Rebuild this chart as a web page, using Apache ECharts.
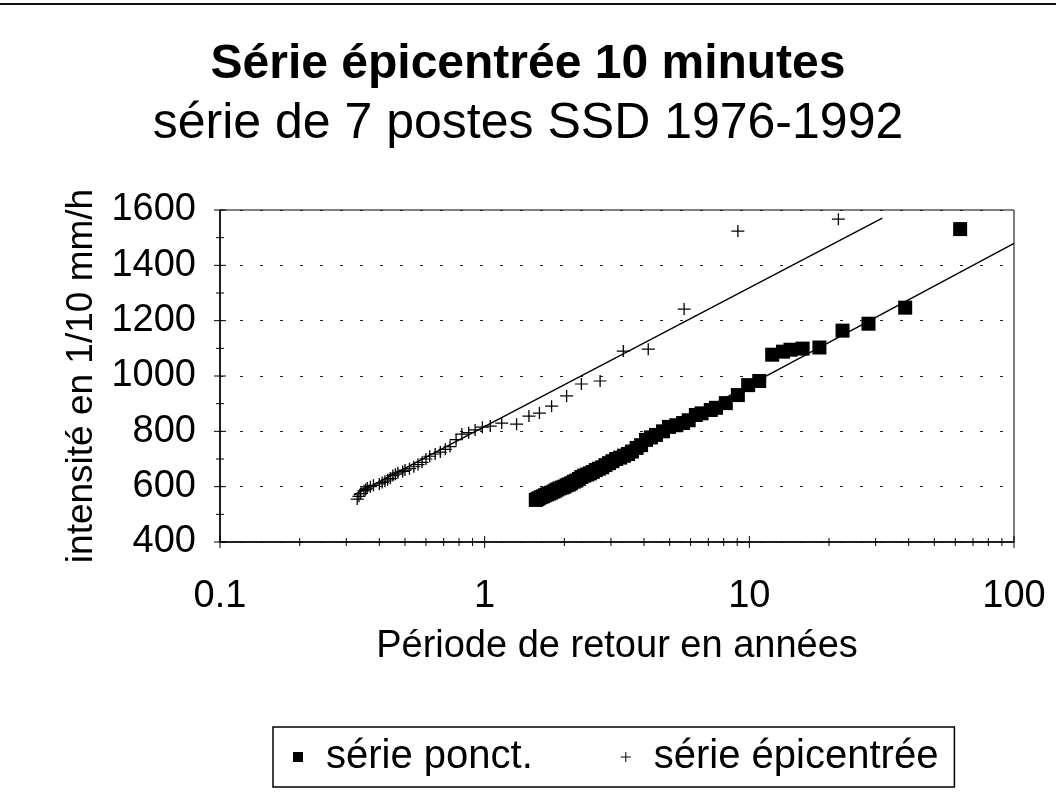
<!DOCTYPE html>
<html>
<head>
<meta charset="utf-8">
<script src="https://cdn.jsdelivr.net/npm/echarts@6/dist/echarts.min.js"></script>
<style>html,body{margin:0;padding:0;background:#fff}#c{width:1056px;height:796px}</style>
</head>
<body>
<div id="c"></div>
<script>
// Data
const ponctT = [62.6, 38.8, 28.2, 22.5, 18.4, 15.9, 14.3, 13.4, 12.2, 10.9, 9.9, 9.05, 8.15, 7.48, 7.15, 6.6, 6.28, 5.9, 5.62, 5.3, 4.97, 4.72, 4.44, 4.25, 4.07, 3.9, 3.75, 3.6, 3.48, 3.36, 3.25, 3.14, 3.04, 2.95, 2.86, 2.78, 2.7, 2.63, 2.56, 2.5, 2.44, 2.38, 2.32, 2.27, 2.22, 2.17, 2.12, 2.08, 2.04, 2.0, 1.96, 1.92, 1.88, 1.85, 1.82, 1.78, 1.75, 1.72, 1.69, 1.66, 1.63, 1.6, 1.58, 1.56];
const ponctY = [1531, 1247, 1189, 1164, 1103, 1099, 1095, 1088, 1077, 982, 967, 931, 902, 885, 877, 865, 859, 840, 830, 822, 816, 800, 787, 778, 769, 750, 740, 727, 718, 712, 705, 700, 692, 685, 678, 670, 665, 660, 653, 648, 644, 640, 635, 628, 622, 618, 612, 608, 605, 600, 597, 594, 590, 586, 582, 578, 575, 572, 569, 565, 562, 558, 555, 552];
const epiT = [21.7, 9.05, 5.67, 4.15, 3.34, 2.73, 2.32, 2.04, 1.79, 1.61, 1.47, 1.32, 1.16, 1.05, 0.98, 0.92, 0.87, 0.82, 0.78, 0.74, 0.71, 0.68, 0.65, 0.62, 0.60, 0.58, 0.56, 0.54, 0.52, 0.50, 0.49, 0.47, 0.46, 0.45, 0.44, 0.43, 0.42, 0.41, 0.40, 0.38, 0.37, 0.36, 0.355, 0.35, 0.34, 0.335, 0.33];
const epiY = [1567, 1524, 1242, 1097, 1090, 982, 971, 928, 891, 866, 855, 826, 830, 819, 815, 805, 795, 790, 770, 745, 735, 725, 718, 710, 700, 688, 680, 672, 665, 660, 655, 650, 645, 640, 630, 625, 620, 615, 610, 605, 600, 595, 590, 585, 575, 565, 555];
const ponctFitT = [1.56, 100];
const ponctFitY = [554, 1479];
const epiFitT = [0.32, 31.8];
const epiFitY = [569, 1571];
const xMajorTicks = [0.1, 1, 10, 100];
const xMinorTicks = [0.2,0.3,0.4,0.5,0.6,0.7,0.8,0.9,2,3,4,5,6,7,8,9,20,30,40,50,60,70,80,90];
const yMajorTicks = [400, 600, 800, 1000, 1200, 1400, 1600];
const yMinorTicks = [500, 700, 900, 1100, 1300, 1500];
const seriesNames = ['série ponct.', 'série épicentrée'];

const FONT = '"Liberation Sans", Arial, sans-serif';
const plusPath = 'path://M0,4.5h10v1h-10z M4.5,0h1v10h-1z';
const zip = (a, b) => a.map((v, i) => [v, b[i]]);

function tickSeries(data, axis, len) {
  return {
    type: 'custom', silent: true, z: 5, clip: false,
    data: data.map(v => axis === 'x' ? [v, 400] : [0.1, v]),
    renderItem: function (params, api) {
      const p = api.coord([api.value(0), api.value(1)]);
      const shape = axis === 'x'
        ? { x1: p[0], y1: p[1] - len, x2: p[0], y2: p[1] + len }
        : { x1: p[0] - len, y1: p[1], x2: p[0] + len, y2: p[1] };
      return { type: 'line', shape: shape, style: { stroke: '#000', lineWidth: 1 } };
    }
  };
}

const chart = echarts.init(document.getElementById('c'), null, { renderer: 'canvas' });
chart.setOption({
  backgroundColor: '#fff',
  animation: false,
  title: [
    { text: 'Série épicentrée 10 minutes', left: 'center', top: 36,
      textStyle: { fontFamily: FONT, fontSize: 48, fontWeight: 'bold', color: '#000' } },
    { text: 'série de 7 postes SSD 1976-1992', left: 'center', top: 94,
      textStyle: { fontFamily: FONT, fontSize: 50, fontWeight: 'normal', color: '#000' } }
  ],
  graphic: [
    { type: 'line', shape: { x1: 0, y1: 4, x2: 1056, y2: 4 }, style: { stroke: '#111', lineWidth: 2 } }
  ],
  legend: {
    left: 273, top: 727,
    data: [
      { name: seriesNames[0], icon: 'rect' },
      { name: seriesNames[1], icon: plusPath }
    ],
    itemWidth: 10, itemHeight: 10, itemGap: 88,
    padding: [10, 16, 10, 20],
    borderColor: '#000', borderWidth: 1.5,
    formatter: n => '{t|' + n + '}',
    textStyle: { fontFamily: FONT, fontSize: 40, color: '#000',
      rich: { t: { fontFamily: FONT, fontSize: 40, color: '#000', padding: [0, 0, 0, 18] } } }
  },
  grid: { left: 220, right: 42, top: 210, bottom: 254, show: true, borderColor: '#000', borderWidth: 1, backgroundColor: '#fff' },
  xAxis: {
    type: 'log', logBase: 10, min: 0.1, max: 100,
    name: 'Période de retour en années', nameLocation: 'middle', nameGap: 86,
    nameTextStyle: { fontFamily: FONT, fontSize: 38, color: '#000' },
    axisLine: { lineStyle: { color: '#000', width: 1.5 } },
    axisTick: { show: false },
    splitLine: { show: false },
    axisLabel: { fontFamily: FONT, fontSize: 38, color: '#000', margin: 36,
      formatter: v => String(v) }
  },
  yAxis: {
    type: 'value', min: 400, max: 1600, interval: 200,
    name: 'intensité en 1/10 mm/h', nameLocation: 'middle', nameGap: 110, nameRotate: 90,
    nameTextStyle: { fontFamily: FONT, fontSize: 37, color: '#000' },
    axisLine: { show: true, lineStyle: { color: '#000', width: 1.5 } },
    axisTick: { show: false },
    splitLine: { show: true, lineStyle: { color: '#222', width: 1, type: [3, 17] } },
    axisLabel: { fontFamily: FONT, fontSize: 38, color: '#000', margin: 24,
      formatter: v => String(v) }
  },
  series: [
    { name: seriesNames[0], type: 'scatter', data: zip(ponctT, ponctY), symbol: 'rect', symbolSize: 14,
      itemStyle: { color: '#000', opacity: 1 }, z: 3 },
    { name: seriesNames[1], type: 'scatter', data: zip(epiT, epiY), symbol: plusPath, symbolSize: [13, 12],
      itemStyle: { color: '#000', opacity: 1 }, z: 3 },
    { name: 'fit ponct', type: 'line', data: zip(ponctFitT, ponctFitY), symbol: 'none',
      lineStyle: { color: '#000', width: 1.4 }, z: 4 },
    { name: 'fit epi', type: 'line', data: zip(epiFitT, epiFitY), symbol: 'none',
      lineStyle: { color: '#000', width: 1.4 }, z: 4 },
    tickSeries(xMajorTicks, 'x', 6),
    tickSeries(xMinorTicks, 'x', 4),
    tickSeries(yMajorTicks, 'y', 6),
    tickSeries(yMinorTicks, 'y', 4)
  ]
});
</script>
</body>
</html>
